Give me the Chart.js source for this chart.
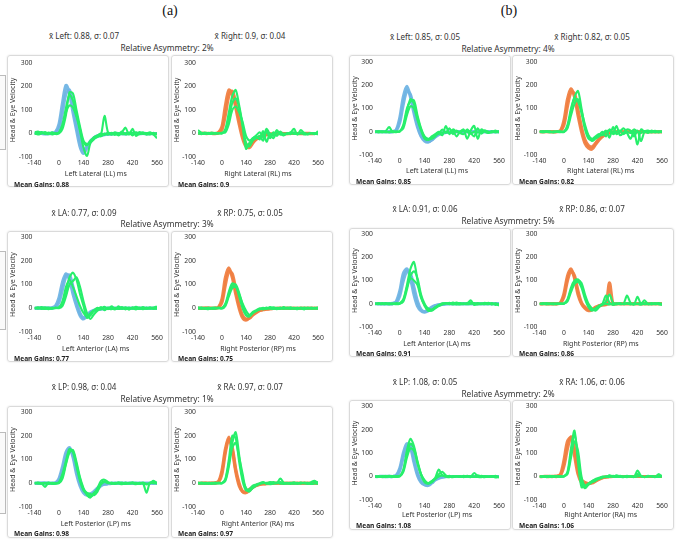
<!DOCTYPE html>
<html>
<head>
<meta charset="utf-8">
<script src="https://cdn.jsdelivr.net/npm/chart.js@4"></script>
<style>
  html, body { margin:0; padding:0; background:#fff; }
  body { width:677px; height:540px; position:relative; overflow:hidden; font-family:"Noto Sans", sans-serif; color:#333; }
  .lbl { position:absolute; white-space:nowrap; transform:translate(-50%,-50%); }
  .sub { position:absolute; font-family:"Liberation Serif", serif; font-size:14px; color:#111; transform:translate(-50%,-50%); }
  .hdr { font-size:8px; }
  .asym { font-size:8.3px; }
  .box { position:absolute; border:1px solid #dadada; border-radius:3px; box-shadow:0 0 2px rgba(0,0,0,0.12); box-sizing:border-box; }
  .box canvas { position:absolute; left:-1px; top:-1px; }
  .mg { position:absolute; font-size:6.6px; font-weight:700; color:#222; white-space:nowrap; transform:translateY(-50%); }
  .strip { position:absolute; left:-2px; width:6px; border:1px solid #bbb; background:#fafafa; }
</style>
</head>
<body>
<script>
// ---------- data ----------
const T = [-140,-120,-100,-80,-60,-40,-20,0,20,40,60,80,100,120,140,160,180,200,220,240,260,280,300,320,340,360,380,400,420,440,460,480,500,520,540,560];
const xTicks = [-140,0,140,280,420,560];
const yTicks = [-100,0,100,200,300];

// (a) Left Lateral
const aLL_head1 = [0,2,0,-2,0,1,6,40,130,205,170,90,15,-55,-85,-60,-35,-20,-12,-8,-5,-3,-2,0,-1,0,-2,0,1,0,-1,0,0,-1,0,0];
const aLL_head2 = [0,0,1,0,-1,0,3,20,90,170,185,120,40,-30,-70,-55,-32,-18,-10,-6,-4,-2,-1,0,0,-1,0,0,0,1,0,0,-1,0,0,0];
const aLL_eye1 = [5,8,2,6,0,3,0,5,40,110,165,140,80,20,-40,-50,-30,-20,-15,-5,75,5,-5,0,-8,5,25,-5,20,-10,0,5,-5,0,-5,-20];
const aLL_eye2 = [-3,2,6,-2,4,-4,2,2,30,90,120,110,70,10,-60,-95,-40,-25,-10,-12,0,-5,3,-6,2,-3,0,4,-8,5,-3,0,2,-4,3,-6];
const aLL_eye3 = [2,-4,0,3,-3,5,-2,0,20,80,175,170,100,30,-30,-45,-35,-15,-8,0,-6,4,-3,5,-2,8,-4,0,3,-5,6,-2,0,5,-3,2];
// (a) Right Lateral
const aRL_head1 = [0,0,1,0,0,-1,5,30,120,185,170,110,40,-20,-55,-60,-40,-25,-15,-10,-5,-3,-2,-1,0,0,-1,0,0,0,1,0,0,-1,0,0];
const aRL_head2 = [0,1,0,0,1,0,2,15,80,160,180,130,60,0,-45,-50,-35,-22,-14,-8,-5,-3,-1,0,0,-1,0,0,0,0,-1,0,1,0,0,0];
const aRL_eye1 = [15,3,0,-2,4,0,2,0,20,90,160,185,120,40,-40,-55,-30,-20,-10,-30,10,-20,5,-10,8,-5,0,3,20,-5,15,0,-4,2,-3,10];
const aRL_eye2 = [2,-3,4,0,-2,3,0,2,10,60,130,150,110,30,-65,-40,-20,-15,-25,10,-35,0,-10,15,-5,0,-3,5,-2,0,3,-4,0,2,-2,0];
const aRL_eye3 = [0,2,-2,3,0,-1,1,3,5,40,100,115,90,50,-10,-30,-20,-8,5,-15,20,-5,-20,5,0,-8,2,-3,5,-2,0,3,-3,0,2,-4];
// (a) Left Anterior
const aLA_head1 = [0,0,1,0,0,2,10,45,110,145,120,60,10,-30,-45,-30,-15,-8,-4,-2,0,0,-1,0,0,0,-1,0,0,0,0,0,0,0,0,0];
const aLA_head2 = [0,1,0,0,1,0,5,25,80,135,140,90,30,-20,-40,-30,-18,-10,-5,-3,-1,0,0,0,-1,0,0,0,0,0,0,0,0,0,0,0];
const aLA_eye1 = [3,-2,5,0,-4,2,0,5,20,70,130,150,120,60,10,-40,-30,-10,-5,5,-8,3,0,-5,8,-3,2,-6,4,0,-3,5,-2,0,3,8];
const aLA_eye2 = [-2,4,0,-3,3,-1,2,0,10,50,100,115,130,90,30,-20,-45,-25,-10,-2,6,-4,8,-2,0,5,-5,3,-2,6,0,-4,3,-2,0,-3];
const aLA_eye3 = [0,2,-3,4,0,-2,3,2,30,90,120,90,50,10,-20,-35,-20,-8,2,-5,3,0,-4,2,-3,0,4,-2,0,-5,3,0,-2,4,-3,5];
// (a) Right Posterior
const aRP_head1 = [0,0,0,1,0,0,5,40,130,170,130,60,0,-40,-50,-40,-25,-15,-8,-5,-3,-2,-1,0,0,0,0,-1,0,0,0,0,0,0,0,0];
const aRP_head2 = [0,0,1,0,0,1,3,25,100,155,145,80,15,-30,-45,-42,-28,-18,-10,-6,-4,-2,-1,-1,0,0,0,0,0,-1,0,0,0,0,0,0];
const aRP_eye1 = [4,2,-3,3,0,-2,2,0,20,70,105,95,50,0,-30,-35,-20,-10,-5,2,-3,5,0,-4,3,-2,0,4,-3,2,0,-5,3,0,-2,5];
const aRP_eye2 = [-2,3,0,-4,2,3,-1,2,15,60,95,100,65,15,-25,-30,-15,-8,0,-5,3,-2,4,0,-3,5,-2,0,2,-4,3,0,-2,3,0,-3];
const aRP_eye3 = [0,-3,2,0,-2,0,3,-1,10,50,85,90,60,20,-10,-28,-20,-12,-3,0,-2,0,-3,2,0,-2,3,-3,0,2,-2,3,0,-2,2,0];
// (a) Left Posterior
const aLP_head1 = [0,0,0,1,0,0,2,20,70,130,150,110,40,-10,-40,-50,-45,-35,-20,-8,-3,-1,0,0,0,0,0,0,0,0,0,0,0,0,0,0];
const aLP_head2 = [0,0,1,0,0,0,1,10,50,110,145,120,55,0,-30,-45,-48,-40,-25,-10,-4,-2,-1,0,0,0,0,0,0,0,0,0,0,0,0,0];
const aLP_eye1 = [3,-2,0,-15,2,-3,0,5,40,95,145,130,70,10,-30,-45,-55,-45,-20,10,15,5,-3,2,0,-4,3,-2,0,2,-3,0,-40,3,0,2];
const aLP_eye2 = [-2,3,0,2,-3,2,0,2,30,85,140,135,80,20,-25,-40,-45,-50,-35,-5,5,0,3,-2,4,0,-3,2,0,-4,2,0,-5,0,3,-2];
const aLP_eye3 = [0,2,-2,0,3,0,-2,0,20,80,130,140,90,25,-20,-50,-60,-40,-25,0,8,3,0,-3,0,3,-2,0,4,-2,0,3,-2,0,10,0];
// (a) Right Anterior
const aRA_head1 = [0,0,0,0,1,0,5,40,130,185,150,60,0,-35,-40,-30,-18,-10,-5,-3,-2,-1,0,0,0,0,0,0,0,0,0,0,0,0,0,0];
const aRA_head2 = [0,0,1,0,0,2,8,55,145,195,140,50,-10,-35,-35,-25,-15,-8,-4,-2,-1,0,0,0,0,0,0,0,0,0,0,0,0,0,0,0];
const aRA_eye1 = [3,0,-3,2,0,-2,3,0,20,100,200,190,90,10,-30,-25,-10,-5,0,5,-3,2,5,0,20,3,-2,0,4,-3,2,0,-3,5,10,0];
const aRA_eye2 = [-2,3,0,-3,2,0,-1,2,15,85,170,215,120,20,-20,-30,-20,-8,-3,0,2,-4,0,3,-2,0,2,-3,0,2,-2,3,0,-2,0,-3];
const aRA_eye3 = [0,-2,2,0,-3,3,0,0,10,70,150,170,110,40,-25,-35,-18,-10,-2,3,0,5,-2,0,5,-3,0,2,-2,0,3,0,2,-3,0,5];
// (b) Left Lateral
const bLL_head1 = [0,0,1,0,0,0,8,60,150,195,150,80,20,-20,-40,-45,-35,-20,-10,-5,-3,-1,0,0,0,0,0,0,0,0,0,0,0,0,0,0];
const bLL_head2 = [0,1,0,0,0,1,5,40,120,175,160,95,30,-15,-35,-42,-35,-22,-12,-6,-3,-2,0,0,0,0,0,0,0,0,0,0,0,0,0,0];
const bLL_eye1 = [2,-3,0,3,20,-2,2,0,25,90,140,120,60,10,-25,-35,-30,-20,-5,-15,25,-10,5,-20,0,10,-30,5,25,-30,10,0,-5,3,-2,0];
const bLL_eye2 = [-2,2,-3,0,-3,3,0,2,30,100,130,135,70,15,-20,-30,-25,-15,-8,10,-5,15,-10,5,-5,-10,10,-5,-20,15,-8,5,0,-3,5,-4];
const bLL_eye3 = [0,2,2,-2,0,0,-2,3,15,70,110,100,50,5,-30,-35,-20,-10,0,-5,0,-5,10,0,-3,5,0,-8,0,-3,0,5,-5,0,-2,3];
// (b) Right Lateral
const bRL_head1 = [0,0,0,1,0,0,5,50,140,185,150,70,0,-50,-70,-75,-55,-35,-20,-10,-5,-2,0,0,0,0,0,0,0,0,0,0,0,0,0,0];
const bRL_head2 = [0,0,1,0,0,1,3,30,110,170,165,95,20,-35,-60,-65,-50,-30,-18,-8,-4,-2,-1,0,0,0,0,0,0,0,0,0,0,0,0,0];
const bRL_eye1 = [3,-2,0,2,-3,0,2,0,30,100,150,175,100,20,-20,-40,-30,-20,-10,5,-25,20,-10,0,15,-5,-30,0,-55,10,0,-5,5,-3,0,3];
const bRL_eye2 = [-2,3,0,-3,2,0,-2,2,20,90,145,130,80,10,-30,-35,-25,-15,0,-20,10,-5,25,-15,-5,10,5,-20,5,-40,0,5,-3,0,2,-2];
const bRL_eye3 = [0,-2,3,0,-2,2,0,-1,15,70,120,140,90,30,-15,-30,-20,-10,-15,0,5,-10,0,5,-10,0,-5,10,0,-5,3,-2,0,4,-3,0];
// (b) Left Anterior
const bLA_head1 = [0,0,0,1,0,0,10,55,130,150,110,40,-10,-30,-35,-25,-15,-8,-4,-2,0,0,0,0,0,0,0,0,0,0,0,0,0,0,0,0];
const bLA_head2 = [0,1,0,0,0,2,5,35,100,140,130,70,10,-25,-35,-30,-18,-10,-5,-3,-1,0,0,0,0,0,0,0,0,0,0,0,0,0,0,0];
const bLA_eye1 = [2,-2,3,0,-3,2,0,3,20,80,150,180,100,30,-10,-30,-28,-15,-5,0,3,-2,5,0,-3,2,0,15,-5,3,0,-2,4,-3,0,-8];
const bLA_eye2 = [-1,3,0,-2,2,0,-2,0,10,60,120,140,110,40,0,-25,-30,-20,-10,-3,2,0,-3,5,0,-2,3,5,0,-3,2,0,-2,3,-5,0];
const bLA_eye3 = [0,0,-2,3,0,-2,3,1,15,70,110,100,80,25,-5,-20,-25,-15,-8,2,0,4,0,-3,3,0,-2,0,3,0,-2,4,0,-2,2,-4];
// (b) Right Posterior
const bRP_head1 = [0,0,0,0,1,0,5,45,120,150,110,40,0,-20,-30,-25,-15,-8,-4,-2,0,0,0,0,0,0,0,0,0,0,0,0,0,0,0,0];
const bRP_head2 = [0,0,1,0,0,0,3,30,100,140,120,55,5,-15,-25,-25,-18,-10,-5,-3,90,-1,0,0,0,0,0,0,0,0,0,0,0,0,0,0];
const bRP_eye1 = [2,-2,3,0,-3,2,0,2,20,70,100,105,80,30,-10,-25,-20,-10,-5,10,40,5,-3,2,0,35,5,-3,30,0,15,-2,0,3,-2,-5];
const bRP_eye2 = [-2,3,0,-2,2,0,-1,0,15,60,90,100,90,40,0,-20,-30,-15,0,35,5,-5,0,3,-2,0,-3,2,0,-4,2,0,-3,0,3,0];
const bRP_eye3 = [0,0,-3,2,0,-2,2,1,10,50,85,95,70,20,-15,-30,-20,-8,-2,0,-3,0,2,-2,0,3,0,-2,0,2,-2,0,3,-2,0,-2];
// (b) Left Posterior
const bLP_head1 = [0,0,0,0,1,0,5,35,100,140,125,60,5,-25,-35,-35,-25,-12,-5,-2,0,0,0,0,0,0,0,0,0,0,0,0,0,0,0,0];
const bLP_head2 = [0,0,1,0,0,0,3,25,85,125,130,75,15,-20,-35,-38,-28,-15,-7,-3,-1,0,0,0,0,0,0,0,0,0,0,0,0,0,0,0];
const bLP_eye1 = [2,-2,0,3,0,-2,2,3,30,110,160,130,60,5,-25,-30,-20,-5,30,5,0,-3,2,0,-2,3,0,-2,15,0,-3,2,0,-2,3,-5];
const bLP_eye2 = [-1,2,-3,0,3,0,-2,0,25,95,140,120,65,10,-20,-30,-25,-10,10,20,5,0,-3,2,0,-2,3,0,-2,5,0,-3,0,2,-4,0];
const bLP_eye3 = [0,-2,2,-3,0,2,0,2,20,80,120,110,55,10,-15,-28,-20,-10,0,5,0,3,-2,0,2,-3,0,2,0,-2,3,0,-2,0,2,-3];
// (b) Right Anterior
const bRA_head1 = [0,0,0,0,1,0,10,70,150,165,90,10,-25,-30,-30,-28,-20,-12,-5,-2,0,0,0,0,0,0,0,0,0,0,0,0,0,0,0,0];
const bRA_head2 = [0,0,1,0,0,2,5,45,120,170,120,30,-15,-25,-30,-25,-18,-10,-5,-2,-1,0,0,0,0,0,0,0,0,0,0,0,0,0,0,0];
const bRA_eye1 = [2,-2,0,3,-2,0,2,0,20,120,195,60,-45,-40,-30,-20,-15,-10,-5,0,3,-2,5,0,-3,2,0,-2,25,3,-2,0,2,-3,10,0];
const bRA_eye2 = [-2,2,-3,0,2,0,-2,2,15,100,180,90,-20,-50,-35,-25,-18,-8,0,-3,5,0,-2,3,0,-3,2,0,10,0,-2,3,0,-2,0,3];
const bRA_eye3 = [0,0,2,-2,0,2,0,1,10,80,150,110,0,-40,-30,-20,-10,-5,-2,0,-2,3,0,-2,0,3,0,-2,0,2,-3,0,2,0,-2,0];

const xTitles = ["Left Lateral (LL) ms","Right Lateral (RL) ms","Left Anterior (LA) ms","Right Posterior (RP) ms","Left Posterior (LP) ms","Right Anterior (RA) ms"];
const meanGainsA = ["0.88","0.9","0.77","0.75","0.98","0.97"];
const meanGainsB = ["0.85","0.82","0.91","0.86","1.08","1.06"];
const headersA = [["x̄ Left: 0.88, σ: 0.07","x̄ Right: 0.9, σ: 0.04","Relative Asymmetry: 2%"],
                  ["x̄ LA: 0.77, σ: 0.09","x̄ RP: 0.75, σ: 0.05","Relative Asymmetry: 3%"],
                  ["x̄ LP: 0.98, σ: 0.04","x̄ RA: 0.97, σ: 0.07","Relative Asymmetry: 1%"]];
const headersB = [["x̄ Left: 0.85, σ: 0.05","x̄ Right: 0.82, σ: 0.05","Relative Asymmetry: 4%"],
                  ["x̄ LA: 0.91, σ: 0.06","x̄ RP: 0.86, σ: 0.07","Relative Asymmetry: 5%"],
                  ["x̄ LP: 1.08, σ: 0.05","x̄ RA: 1.06, σ: 0.06","Relative Asymmetry: 2%"]];

const BLUE = 'rgba(112,180,228,0.95)';
const ORANGE = 'rgba(240,128,66,0.95)';
const GREEN = '#27ef6b';

// ---------- layout (page geometry, not data) ----------
const colA = { boxL:[7,171], boxW:162, plotL:[34.5,198], plotR:[157,318],
  rows:[ {boxT:55,boxH:132,plotT:63,plotB:157,titleY:173,mgY:184,hY:35,aY:47},
         {boxT:231,boxH:131,plotT:237,plotB:332,titleY:348,mgY:358,hY:212,aY:223},
         {boxT:406,boxH:132,plotT:412,plotB:507,titleY:523,mgY:533,hY:386,aY:398} ],
  hX:[84,250], aX:167 };
const colB = { boxL:[349,512], boxW:162, plotL:[375,539.5], plotR:[499,662],
  rows:[ {boxT:55,boxH:130,plotT:62,plotB:155,titleY:170,mgY:181,hY:36,aY:48},
         {boxT:228,boxH:129,plotT:233,plotB:327,titleY:343,mgY:353,hY:208,aY:220},
         {boxT:400,boxH:130,plotT:406,plotB:500,titleY:514,mgY:525,hY:381,aY:393} ],
  hX:[425,592], aX:508 };

const panelData = {
  a: [[aLL_head1,aLL_head2,aLL_eye1,aLL_eye2,aLL_eye3],[aRL_head1,aRL_head2,aRL_eye1,aRL_eye2,aRL_eye3],
      [aLA_head1,aLA_head2,aLA_eye1,aLA_eye2,aLA_eye3],[aRP_head1,aRP_head2,aRP_eye1,aRP_eye2,aRP_eye3],
      [aLP_head1,aLP_head2,aLP_eye1,aLP_eye2,aLP_eye3],[aRA_head1,aRA_head2,aRA_eye1,aRA_eye2,aRA_eye3]],
  b: [[bLL_head1,bLL_head2,bLL_eye1,bLL_eye2,bLL_eye3],[bRL_head1,bRL_head2,bRL_eye1,bRL_eye2,bRL_eye3],
      [bLA_head1,bLA_head2,bLA_eye1,bLA_eye2,bLA_eye3],[bRP_head1,bRP_head2,bRP_eye1,bRP_eye2,bRP_eye3],
      [bLP_head1,bLP_head2,bLP_eye1,bLP_eye2,bLP_eye3],[bRA_head1,bRA_head2,bRA_eye1,bRA_eye2,bRA_eye3]]
};

function addText(cls, text, x, y) {
  const d = document.createElement('div');
  d.className = cls; d.textContent = text;
  d.style.left = x + 'px'; d.style.top = y + 'px';
  document.body.appendChild(d);
  return d;
}

const FONT = '"Noto Sans", sans-serif';
const pts = arr => T.map((t, i) => ({ x: t, y: arr[i] }));

function makePanel(col, key, r, side, gains) {
  const row = col.rows[r];
  const bx = col.boxL[side], by = row.boxT, bw = col.boxW, bh = row.boxH;
  const box = document.createElement('div');
  box.className = 'box';
  box.style.left = bx + 'px'; box.style.top = by + 'px';
  box.style.width = bw + 'px'; box.style.height = bh + 'px';
  document.body.appendChild(box);
  const cv = document.createElement('canvas');
  cv.width = bw; cv.height = bh;
  cv.style.width = bw + 'px'; cv.style.height = bh + 'px';
  box.appendChild(cv);

  const idx = r * 2 + side;
  const arrs = panelData[key][idx];
  const headColor = side === 0 ? BLUE : ORANGE;
  const yW = col.plotL[side] - bx;
  const padTop = row.plotT - by;
  const padRight = bx + bw - col.plotR[side];
  const titleBottom = row.titleY + 5;
  const xH = titleBottom - row.plotB;
  const padBottom = by + bh - titleBottom;

  // head traces drawn underneath (higher order), eye traces on top
  const datasets = arrs.map((a, k) => ({
    data: pts(a),
    borderColor: k < 2 ? headColor : GREEN,
    borderWidth: k < 2 ? 3.2 : 2.1,
    order: k < 2 ? 10 : 1,
    pointRadius: 0, tension: 0.3, fill: false
  }));

  new Chart(cv, {
    type: 'line',
    data: { datasets },
    options: {
      responsive: false, animation: false, devicePixelRatio: 1,
      layout: { padding: { left: 0, top: padTop, right: padRight, bottom: padBottom } },
      plugins: { legend: { display: false }, tooltip: { enabled: false } },
      scales: {
        x: {
          type: 'linear', min: -140, max: 560,
          afterBuildTicks: s => { s.ticks = xTicks.map(v => ({ value: v })); },
          afterFit: s => { s.height = xH; },
          grid: { display: false, drawTicks: false }, border: { display: false },
          ticks: { color: '#333', font: { family: FONT, size: 6.8 }, padding: 2, maxRotation: 0, autoSkip: false },
          title: { display: true, text: xTitles[idx], color: '#333', font: { family: FONT, size: 7 }, padding: 0 }
        },
        y: {
          type: 'linear', min: -100, max: 300,
          afterBuildTicks: s => { s.ticks = yTicks.map(v => ({ value: v })); },
          afterFit: s => { s.width = yW; },
          grid: { display: false, drawTicks: false }, border: { display: false },
          ticks: { color: '#333', font: { family: FONT, size: 6.8 }, padding: 2, autoSkip: false },
          title: { display: true, text: 'Head & Eye Velocity', color: '#333', font: { family: FONT, size: 7 }, padding: { top: 1.5, bottom: 0 } }
        }
      }
    }
  });

  const mg = document.createElement('div');
  mg.className = 'mg';
  mg.textContent = 'Mean Gains: ' + gains[idx];
  mg.style.left = (bx + 7) + 'px'; mg.style.top = row.mgY + 'px';
  document.body.appendChild(mg);
}

function makeColumn(col, key, headers, gains) {
  for (let r = 0; r < 3; r++) {
    const row = col.rows[r];
    addText('lbl hdr', headers[r][0], col.hX[0], row.hY);
    addText('lbl hdr', headers[r][1], col.hX[1], row.hY);
    addText('lbl asym', headers[r][2], col.aX, row.aY);
    makePanel(col, key, r, 0, gains);
    makePanel(col, key, r, 1, gains);
  }
}

addText('sub', '(a)', 170, 11);
addText('sub', '(b)', 509, 11);
// cut-off side widgets at the far left of column (a)
[[75,148],[251,328],[432,512]].forEach(([t,b]) => {
  const s = document.createElement('div'); s.className = 'strip';
  s.style.top = t + 'px'; s.style.height = (b - t) + 'px';
  document.body.appendChild(s);
});
makeColumn(colA, 'a', headersA, meanGainsA);
makeColumn(colB, 'b', headersB, meanGainsB);
</script>
</body>
</html>
